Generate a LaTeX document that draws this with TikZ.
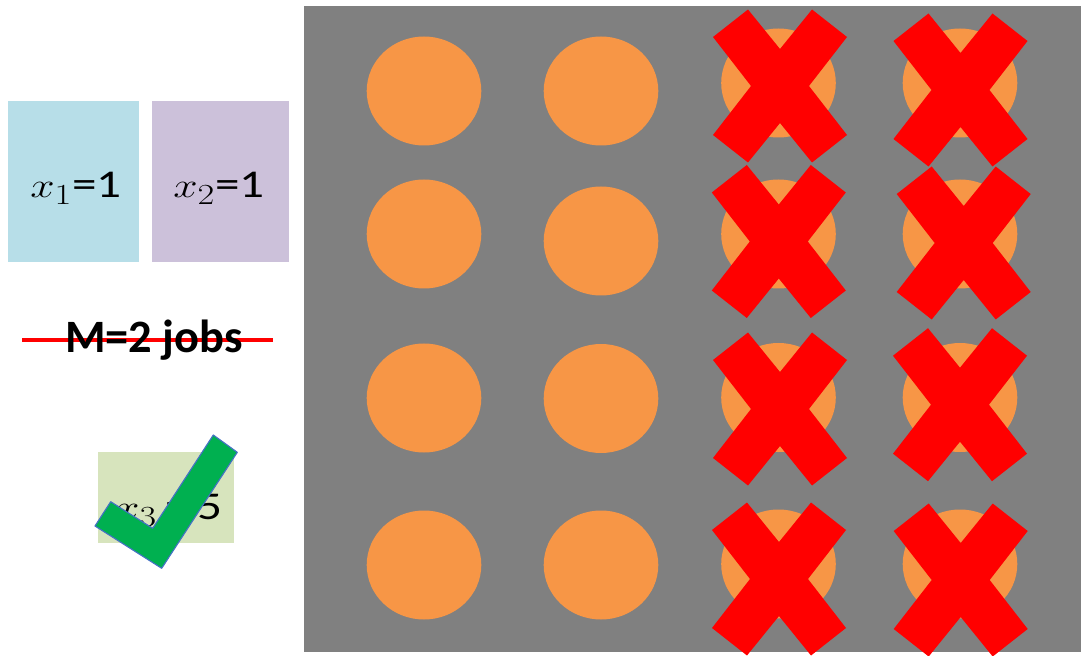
\documentclass[tikz,border=0pt]{standalone}
\usepackage{fontspec}
\setmainfont{Carlito}
\definecolor{bggray}{HTML}{808080}
\definecolor{dotorange}{HTML}{F79646}
\definecolor{xred}{HTML}{FF0000}
\definecolor{boxblue}{HTML}{B7DEE8}
\definecolor{boxlav}{HTML}{CCC1DA}
\definecolor{boxgreen}{HTML}{D7E4BD}
\definecolor{checkgreen}{HTML}{00B050}
\definecolor{checkedge}{HTML}{4472C4}
\tikzset{
  dot/.style={fill=dotorange, draw=none},
  eqtext/.style={anchor=base, inner sep=0pt, font=\fontsize{28}{33}\selectfont},
  xcross/.pic={\fill[xred] (-67,-49) -- (-32,-76.5) -- (0,-37) -- (32,-76.5) -- (67,-49) -- (29,0) -- (67,49) -- (32,76.5) -- (0,37) -- (-32,76.5) -- (-67,49) -- (-29,0) -- cycle;}
}
\begin{document}
\begin{tikzpicture}[x=0.025cm, y=-0.025cm]
\useasboundingbox (0,0) rectangle (1081,656);
% background panel
\fill[bggray] (304,6) rectangle (1081,652);
% orange dots
\foreach \cx/\cy in {424/91, 601/91, 778.5/83, 960/83,
                     424/234, 601/241, 778.5/234, 960/234,
                     424/398, 601/398.5, 778.5/397.5, 960/397.5,
                     424/565, 601/565, 778.5/564, 960/564}
  \fill[dot] (\cx,\cy) ellipse [x radius=57.3, y radius=54.5];
% red crosses
\foreach \cx/\cy in {780/86, 960.5/90, 778.8/241.5, 963.7/243,
                     780/409, 960/404.7, 779/579, 960.7/580}
  \pic at (\cx,\cy) {xcross};
% left boxes
\fill[boxblue] (8,101) rectangle (139,262);
\fill[boxlav] (152,101) rectangle (289,262);
\node[eqtext] (x1) at (76,198) {\scalebox{1.25}[1]{$x_1$=1}};
\node[eqtext] (x2) at (219,198) {\scalebox{1.25}[1]{$x_2$=1}};
% M=2 jobs struck through
\coordinate (sl) at (22,340);
\coordinate (sr) at (273,340);
\draw[xred, line width=3.5pt] (sl) -- (sr);
\node[anchor=base, inner sep=0pt, font=\fontsize{33}{38}\selectfont\bfseries] (mjobs) at (154,352.5) {M=2 jobs};
% x3 box with check mark
\fill[boxgreen] (98.3,452.3) rectangle (234.3,542.7);
\node[eqtext] (x3) at (169,519.3) {\scalebox{1.25}[1]{$x_3$\,=\,5}};
\filldraw[fill=checkgreen, draw=checkedge, line width=0.8pt, line join=round]
  (110.7,501.7) -- (152.7,528.3) -- (213.3,435) -- (237.3,452.3) -- (161.7,568.3) -- (95,526) -- cycle;
\end{tikzpicture}
\end{document}
